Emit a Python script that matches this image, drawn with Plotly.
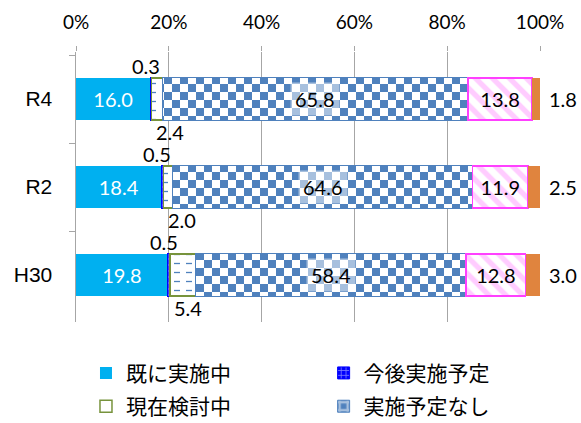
import plotly.graph_objects as go

categories = ["R4", "R2", "H30"]
already = [16.0, 18.4, 19.8]
planned = [0.3, 0.5, 0.5]
considering = [2.4, 2.0, 5.4]
no_plan = [65.8, 64.6, 58.4]
other = [13.8, 11.9, 12.8]
no_answer = [1.8, 2.5, 3.0]

series_names = ["既に実施中", "今後実施予定", "現在検討中", "実施予定なし", "その他", "無回答"]
tick_vals = [0, 20, 40, 60, 80, 100]
tick_text = ["0%", "20%", "40%", "60%", "80%", "100%"]

LATIN = "Lato, 'Noto Sans', sans-serif"
ARIAL = "'Liberation Sans', Arial, sans-serif"
CJK = "'Noto Sans CJK JP', sans-serif"
BLUE = "#4F81BD"
LBL = 20

fig = go.Figure()

fig.add_trace(go.Bar(
    y=categories, x=already, name=series_names[0], orientation="h", legend="legend",
    legendgroup="a",
    marker=dict(color="#00B0F0", line=dict(width=0)),
    text=[f"{v:.1f}" for v in already], textposition="inside", insidetextanchor="middle",
    textfont=dict(color="white", size=LBL, family=LATIN),
))
fig.add_trace(go.Bar(
    y=categories, x=planned, name=series_names[1], orientation="h", legend="legend2",
    legendgroup="b",
    marker=dict(color="#0000FF", line=dict(color="#0000FF", width=1),
                pattern=dict(shape="+", fgcolor="white", bgcolor="#0000FF", size=6, solidity=0.3)),
))
fig.add_trace(go.Bar(
    y=categories, x=considering, name=series_names[2], orientation="h", legend="legend",
    legendgroup="c",
    marker=dict(color="white", line=dict(color="#77933C", width=1.5),
                pattern=dict(shape="-", fgcolor=BLUE, bgcolor="white", size=9, solidity=0.15)),
))
fig.add_trace(go.Bar(
    y=categories, x=no_plan, name=series_names[3], orientation="h", legend="legend2",
    legendgroup="d",
    marker=dict(color=BLUE, line=dict(color=BLUE, width=1),
                pattern=dict(shape="+", fgcolor="white", bgcolor=BLUE, size=15, solidity=0.5)),
))
fig.add_trace(go.Bar(
    y=categories, x=other, name=series_names[4], orientation="h", showlegend=False,
    marker=dict(color="#FFCCFF", line=dict(color="#FF40FF", width=1.5),
                pattern=dict(shape="\\", fgcolor="#FF99FF", bgcolor="white", size=12, solidity=0.45)),
    text=[f"{v:.1f}" for v in other], textposition="inside", insidetextanchor="middle",
    textfont=dict(color="black", size=LBL, family=LATIN),
))
fig.add_trace(go.Bar(
    y=categories, x=no_answer, name=series_names[5], orientation="h", showlegend=False,
    marker=dict(color="#E0843E", line=dict(width=0)),
))

for i, cat in enumerate(categories):
    start_planned = already[i]
    start_cons = already[i] + planned[i]
    mid_noplan = already[i] + planned[i] + considering[i] + no_plan[i] / 2
    fig.add_annotation(x=start_planned, y=cat, text=f"{planned[i]:.1f}", showarrow=False,
                       xanchor="center", yshift=33, xshift=-4,
                       font=dict(size=LBL, color="black", family=LATIN))
    fig.add_annotation(x=start_cons, y=cat, text=f"{considering[i]:.1f}", showarrow=False,
                       xanchor="left", yshift=-33, xshift=2,
                       font=dict(size=LBL, color="black", family=LATIN))
    fig.add_annotation(x=100, y=cat, text=f"{no_answer[i]:.1f}", showarrow=False,
                       xanchor="left", xshift=7,
                       font=dict(size=LBL, color="black", family=LATIN))
    fig.add_annotation(x=mid_noplan, y=cat, text=f"{no_plan[i]:.1f}", showarrow=False,
                       xanchor="center", bgcolor="rgba(255,255,255,0.5)", borderpad=4,
                       font=dict(size=LBL, color="black", family=LATIN))

fig.update_layout(
    barmode="stack",
    bargap=0.52,
    width=581, height=423,
    margin=dict(l=76, r=41, t=52, b=101, autoexpand=False),
    paper_bgcolor="white", plot_bgcolor="white",
    font=dict(family=LATIN, size=16, color="black"),
    xaxis=dict(side="top", range=[0, 100], tickvals=tick_vals, ticktext=tick_text,
               showgrid=True, gridcolor="#A6A6A6", gridwidth=1, zeroline=False,
               showline=False, ticks="outside", ticklen=5, tickcolor="#A6A6A6",
               ticklabelstandoff=9,
               tickfont=dict(size=19, family=LATIN), automargin=False),
    yaxis=dict(autorange="reversed", showline=True, linecolor="#A6A6A6", linewidth=1.5,
               ticks="outside", ticklen=6, tickcolor="#A6A6A6", tickson="boundaries",
               ticklabelstandoff=18,
               tickfont=dict(size=21, family=ARIAL), automargin=False),
    legend=dict(orientation="v", xref="container", yref="container",
                x=0.148, y=0.166, xanchor="left", yanchor="top",
                traceorder="grouped", tracegroupgap=3,
                font=dict(size=21, family=CJK), itemwidth=30, bgcolor="rgba(0,0,0,0)"),
    legend2=dict(orientation="v", xref="container", yref="container",
                 x=0.557, y=0.166, xanchor="left", yanchor="top",
                 traceorder="grouped", tracegroupgap=3,
                 font=dict(size=21, family=CJK), itemwidth=30, bgcolor="rgba(0,0,0,0)"),
    uniformtext=dict(minsize=8, mode="show"),
)

post_js = """
document.body.style.margin = '0';
(function(){
  var gd = document.getElementById('{plot_id}');
  var ns = 'http://www.w3.org/2000/svg';
  function mk(tag, attrs, parent){
    var e = document.createElementNS(ns, tag);
    for (var k in attrs) e.setAttribute(k, attrs[k]);
    if (parent) parent.appendChild(e);
    return e;
  }
  function apply(){
    var defs = gd.querySelector('svg.main-svg defs');
    if (!defs) return;
    if (!document.getElementById('chk16')) {
      [['chk16', 8], ['chk6', 6]].forEach(function(d){
        var p = mk('pattern', {id: d[0], patternUnits: 'userSpaceOnUse', width: 2*d[1], height: 2*d[1]}, defs);
        mk('rect', {x: 0, y: 0, width: 2*d[1], height: 2*d[1], fill: '#FFFFFF'}, p);
        mk('rect', {x: 0, y: 0, width: d[1], height: d[1], fill: '#4F81BD'}, p);
        mk('rect', {x: d[1], y: d[1], width: d[1], height: d[1], fill: '#4F81BD'}, p);
      });
      var q = mk('pattern', {id: 'dsh', patternUnits: 'userSpaceOnUse', width: 12, height: 9}, defs);
      mk('rect', {x: 0, y: 0, width: 12, height: 9, fill: '#FFFFFF'}, q);
      mk('line', {x1: 2, y1: 4.5, x2: 8, y2: 4.5, stroke: '#4F81BD', 'stroke-width': 1.3}, q);
      var r = mk('pattern', {id: 'dshL', patternUnits: 'userSpaceOnUse', width: 12, height: 12}, defs);
      mk('rect', {x: 0, y: 0, width: 12, height: 12, fill: '#FFFFFF'}, r);
      mk('line', {x1: -6, y1: 9, x2: 0, y2: 9, stroke: '#4F81BD', 'stroke-width': 1.5}, r);
    }
    var traces = gd.querySelectorAll('.barlayer .trace.bars');
    if (traces.length > 3) {
      traces[3].querySelectorAll('.point path').forEach(function(p){ p.style.fill = 'url(#chk16)'; });
      traces[2].querySelectorAll('.point path').forEach(function(p){ p.style.fill = 'url(#dsh)'; });
    }
    gd.querySelectorAll('.traces').forEach(function(t){
      var tx = t.querySelector('.legendtext');
      if (!tx) return;
      if (tx.textContent === '実施予定なし') {
        t.querySelectorAll('.legendpoints path').forEach(function(p){ p.style.fill = 'url(#chk6)'; });
      }
      if (tx.textContent === '現在検討中') {
        t.querySelectorAll('.legendpoints path').forEach(function(p){ p.style.fill = 'url(#dshL)'; });
      }
    });
  }
  apply();
  gd.on('plotly_afterplot', apply);
})();
"""

fig.write_html("out.html", post_script=post_js,
               config={"displayModeBar": False, "staticPlot": True})
